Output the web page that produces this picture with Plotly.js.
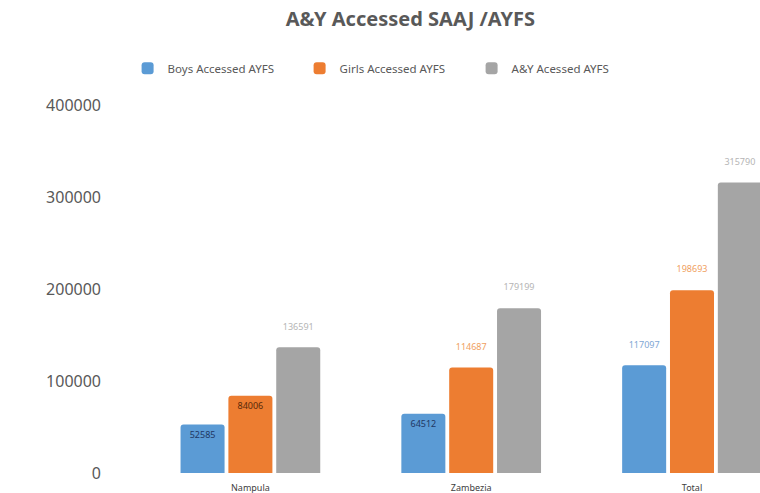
<!DOCTYPE html>
<html><head><meta charset="utf-8">
<script src="https://cdn.plot.ly/plotly-3.0.1.min.js"></script>
<style>html,body{margin:0;padding:0;background:#fff}#chart{width:760px;height:493px}</style>
</head><body><div id="chart"></div>
<script>
const categories = ['Nampula', 'Zambezia', 'Total'];
const boys = [52585, 64512, 117097];
const girls = [84006, 114687, 198693];
const ayAll = [136591, 179199, 315790];
const seriesNames = ['Boys Accessed AYFS', 'Girls Accessed AYFS', 'A&Y Acessed AYFS'];
const yTicks = [0, 100000, 200000, 300000, 400000];

const FONT = 'Noto Sans, Open Sans, sans-serif';
function trace(name, vals, color, positions, textColors) {
  return {
    type: 'bar', name: name, x: categories, y: vals,
    marker: {color: color, cornerradius: 3},
    text: vals.map(String),
    texttemplate: positions.map(p => p === 'outside' ? '%{text}<br> ' : '%{text}'),
    textposition: positions,
    insidetextanchor: 'end',
    textangle: 0,
    textfont: {family: FONT, size: 9, color: textColors},
    cliponaxis: false,
    hoverinfo: 'skip'
  };
}
const data = [
  trace(seriesNames[0], boys, '#5b9bd5', ['inside','inside','outside'], ['#1f3864','#1f3864','#7fa7d4']),
  trace(seriesNames[1], girls, '#ed7d31', ['inside','outside','outside'], ['#5a2a0a','#f0a060','#f0a060']),
  trace(seriesNames[2], ayAll, '#a5a5a5', ['outside','outside','outside'], ['#b5b5b5','#b5b5b5','#b5b5b5'])
];
const layout = {
  width: 760, height: 493,
  margin: {l: 140, r: 0, t: 105, b: 20},
  paper_bgcolor: '#fff', plot_bgcolor: '#fff',
  font: {family: FONT, color: '#595959'},
  title: {text: '<b>A&Y Accessed SAAJ /AYFS</b>', x: 0.54, xanchor: 'center', y: 0.962, yanchor: 'middle',
          font: {family: FONT, size: 20, color: '#595959'}},
  barmode: 'group', bargap: 0.35, bargroupgap: 0.08,
  showlegend: true,
  legend: {orientation: 'h', x: -0.02, xanchor: 'left', y: 1.1, yanchor: 'middle',
           font: {family: FONT, size: 11.5, color: '#595959'}, itemwidth: 30,
           entrywidth: 127, entrywidthmode: 'pixels',
           traceorder: 'normal'},
  xaxis: {type: 'category', range: [-0.5, 2.308], showline: false, showgrid: false, zeroline: false,
          ticklabelstandoff: 8,
          tickfont: {family: FONT, size: 9, color: '#404040'}, ticks: '', fixedrange: true},
  yaxis: {range: [0, 400000], tickvals: yTicks, ticktext: yTicks.map(String), showgrid: false,
          zeroline: false, showline: false, ticks: '', ticklabelstandoff: 38,
          tickfont: {family: FONT, size: 16, color: '#595959'}, fixedrange: true}
};
Plotly.newPlot('chart', data, layout, {staticPlot: true, displayModeBar: false});
</script></body></html>
